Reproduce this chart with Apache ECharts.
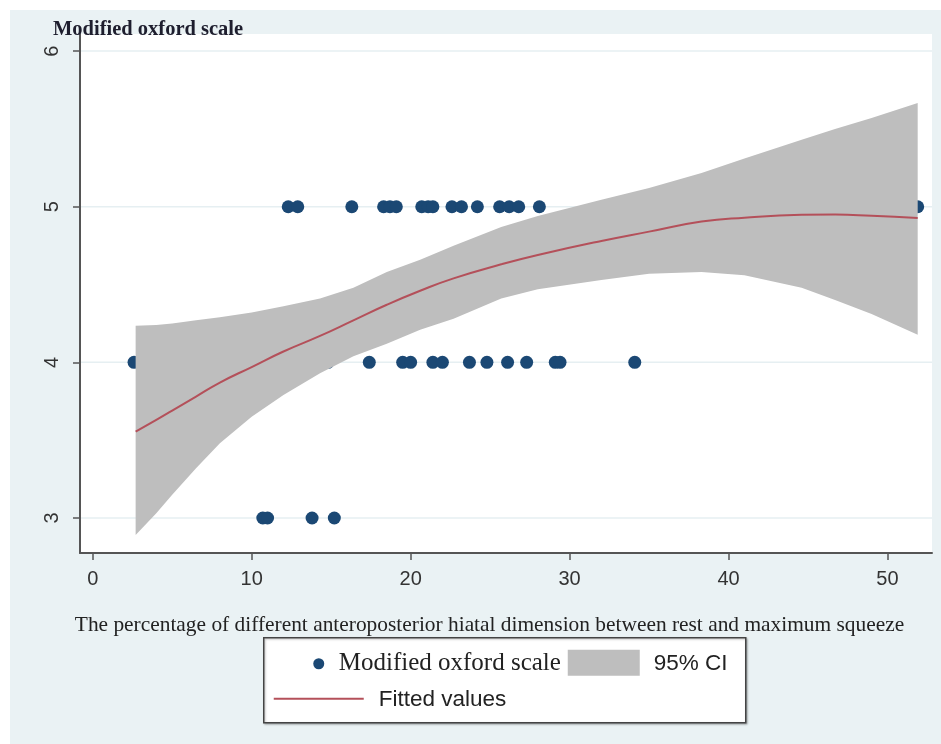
<!DOCTYPE html>
<html><head><meta charset="utf-8">
<script src="https://cdn.jsdelivr.net/npm/echarts@6/dist/echarts.min.js"></script>
<style>html,body{margin:0;padding:0;background:#fff}#c{width:941px;height:744px}</style>
</head><body><div id="c"></div>
<script>
// ---- data ----
const xTicks = [0, 10, 20, 30, 40, 50];
const yTicks = [3, 4, 5, 6];
const score5X = [12.3, 12.9, 16.3, 18.3, 18.7, 19.1, 20.7, 21.1, 21.4, 22.6, 23.2, 24.2, 25.6, 26.2, 26.8, 28.1, 51.9];
const score4X = [2.6, 14.8, 17.4, 19.5, 20.0, 21.4, 22.0, 23.7, 24.8, 26.1, 27.3, 29.1, 29.4, 34.1];
const score3X = [10.7, 11.0, 13.8, 15.2];
const fitX    = [2.7, 4, 5, 6.5, 8, 10, 12, 14.3, 16.4, 18.5, 20.6, 22.7, 25.7, 28, 32, 35, 38.3, 41, 44.6, 46.7, 49, 51.9];
const fitY    = [3.555, 3.63, 3.69, 3.78, 3.87, 3.97, 4.07, 4.17, 4.27, 4.37, 4.46, 4.54, 4.63, 4.69, 4.78, 4.84, 4.905, 4.93, 4.948, 4.95, 4.942, 4.927];
const ciUpper = [4.235, 4.24, 4.25, 4.27, 4.29, 4.32, 4.36, 4.41, 4.48, 4.58, 4.66, 4.75, 4.87, 4.94, 5.045, 5.12, 5.217, 5.31, 5.43, 5.50, 5.57, 5.667];
const ciLower = [2.89, 3.03, 3.15, 3.32, 3.48, 3.65, 3.79, 3.93, 4.04, 4.12, 4.21, 4.28, 4.41, 4.47, 4.53, 4.57, 4.58, 4.56, 4.48, 4.40, 4.31, 4.177];

const dotColor = '#1b4874';
const fitColor = '#b4505a';
const bandColor = '#bebebe';

const scatterData = [];
score5X.forEach(x => scatterData.push([x, 5]));
score4X.forEach(x => scatterData.push([x, 4]));
score3X.forEach(x => scatterData.push([x, 3]));

const chart = echarts.init(document.getElementById('c'), null, {renderer: 'canvas'});
chart.setOption({
  backgroundColor: '#ffffff',
  animation: false,
  title: {
    text: 'Modified oxford scale', left: 48, top: 14,
    textStyle: {fontFamily: 'Liberation Serif, Times New Roman, serif', fontWeight: 'bold', fontSize: 20.5, color: '#1e1e2e'}
  },
  grid: {left: 80, top: 34, right: 9, bottom: 191, show: true, backgroundColor: '#ffffff', borderWidth: 0},
  xAxis: {
    type: 'value', min: -0.8, max: 52.8,
    name: 'The percentage of different anteroposterior hiatal dimension between rest and maximum squeeze',
    nameLocation: 'middle', nameGap: 62,
    nameTextStyle: {fontFamily: 'Liberation Serif, Times New Roman, serif', fontSize: 21.4, color: '#222', padding: [0, 33, 0, 0]},
    axisLine: {show: true, onZero: false, lineStyle: {color: '#555', width: 2}},
    axisTick: {show: true, length: 7, lineStyle: {color: '#555', width: 1.5}, customValues: xTicks},
    axisLabel: {customValues: xTicks, margin: 16, fontFamily: 'Liberation Sans Narrow, Liberation Sans, Arial, sans-serif', fontSize: 20, color: '#333'},
    splitLine: {show: false}
  },
  yAxis: {
    type: 'value', min: 2.775, max: 6.11,
    axisLine: {show: true, onZero: false, lineStyle: {color: '#555', width: 2}},
    axisTick: {show: true, length: 7, lineStyle: {color: '#555', width: 1.5}, customValues: yTicks},
    axisLabel: {customValues: yTicks, rotate: 90, margin: 18, fontFamily: 'Liberation Sans Narrow, Liberation Sans, Arial, sans-serif', fontSize: 20, color: '#333'},
    splitLine: {show: false}
  },
  series: [
    {
      type: 'custom', z: 0, silent: true,
      renderItem: function (params, api) {
        const children = yTicks.map(v => {
          const a = api.coord([-0.8, v]), b = api.coord([52.8, v]);
          return {type: 'line', shape: {x1: a[0], y1: a[1], x2: b[0], y2: b[1]}, style: {stroke: '#e6eff2', lineWidth: 1.5}};
        });
        return {type: 'group', children: children};
      },
      data: [[0, yTicks[0]]]
    },
    {
      type: 'scatter', z: 2, symbol: 'circle', symbolSize: 13,
      itemStyle: {color: dotColor, opacity: 1},
      data: scatterData
    },
    {
      type: 'custom', z: 3, clip: true,
      renderItem: function (params, api) {
        const pts = [];
        for (let i = 0; i < fitX.length; i++) pts.push(api.coord([fitX[i], ciUpper[i]]));
        for (let i = fitX.length - 1; i >= 0; i--) pts.push(api.coord([fitX[i], ciLower[i]]));
        return {type: 'polygon', shape: {points: pts}, style: {fill: bandColor}};
      },
      data: [[fitX[0], ciLower[0]]]
    },
    {
      type: 'line', z: 4, smooth: true, symbol: 'none',
      lineStyle: {color: fitColor, width: 2},
      data: fitX.map((x, i) => [x, fitY[i]])
    }
  ],
  graphic: [
    {type: 'rect', z: -10, shape: {x: 10, y: 10, width: 931, height: 734}, style: {fill: '#eaf2f4'}},
    {type: 'group', left: 263, top: 637, z: 10, children: [
      {type: 'rect', shape: {x: 0, y: 0, width: 482, height: 85}, style: {fill: '#ffffff', stroke: '#444', lineWidth: 1.5, shadowColor: 'rgba(0,0,0,0.25)', shadowBlur: 2, shadowOffsetX: 1, shadowOffsetY: 1}},
      {type: 'circle', shape: {cx: 55, cy: 26, r: 5.5}, style: {fill: dotColor}},
      {type: 'text', x: 75, y: 26, style: {text: 'Modified oxford scale', fontFamily: 'Liberation Serif, Times New Roman, serif', fontSize: 25, fill: '#222', verticalAlign: 'middle'}},
      {type: 'rect', shape: {x: 304, y: 12, width: 72, height: 26}, style: {fill: bandColor}},
      {type: 'text', x: 390, y: 26, style: {text: '95% CI', fontFamily: 'Liberation Sans, Arial, sans-serif', fontSize: 22.5, fill: '#222', verticalAlign: 'middle'}},
      {type: 'line', shape: {x1: 10, y1: 61, x2: 100, y2: 61}, style: {stroke: fitColor, lineWidth: 2}},
      {type: 'text', x: 115, y: 62, style: {text: 'Fitted values', fontFamily: 'Liberation Sans, Arial, sans-serif', fontSize: 22.5, fill: '#222', verticalAlign: 'middle'}}
    ]}
  ]
});
</script>
</body></html>
